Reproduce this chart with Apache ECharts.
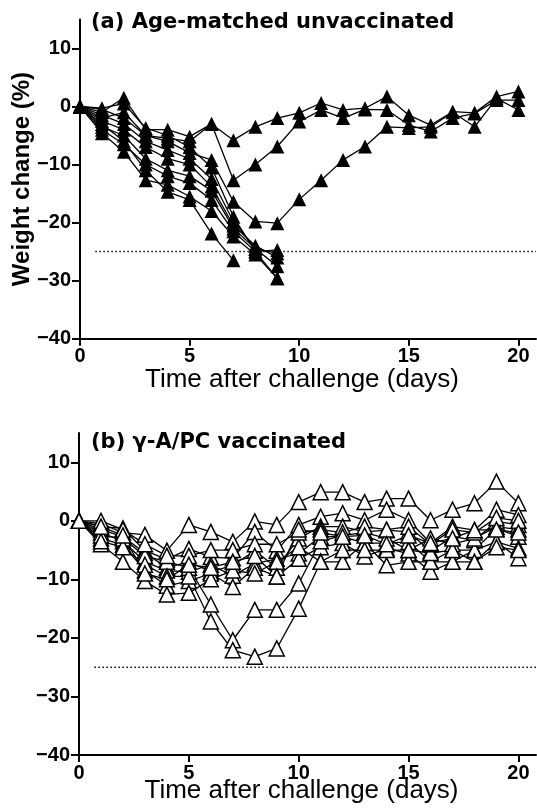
<!DOCTYPE html>
<html>
<head>
    <meta charset="utf-8" />
    <script type="text/javascript" src="https://cdn.jsdelivr.net/npm/echarts@6/dist/echarts.min.js"></script>
    <title>Weight change after challenge</title>
    <style>
        html, body { margin: 0; padding: 0; background: #fff; }
    </style>
</head>
<body>
    <div id="main" style="width: 537px;height:808px;"></div>
    <script type="text/javascript">
    // days after challenge
    var days = [0, 1, 2, 3, 4, 5, 6, 7, 8, 9, 10, 11, 12, 13, 14, 15, 16, 17, 18, 19, 20];
    var xTicks = [0, 5, 10, 15, 20];
    var yTicks = [-40, -30, -20, -10, 0, 10];
    var threshold = -25; // humane endpoint, dotted line
    var thresholdFrom = 0.7;
    var thresholdTo = 20.8;

    // (a) age-matched unvaccinated, % weight change per mouse (stops when mouse died)
    var unvac1 = [0, -1, 1.5, -4, -4, -5.2, -3, -5.8, -3.5, -2, -1.1, 0.6, -0.6, -0.3, 1.7, -1.5, -3.2, -0.9, -1.1, 1.7, 2.6];
    var unvac2 = [0, -2, -1, -5, -5.5, -6, -3, -12.7, -10, -6.9, -2.6, -0.6, -2.0, -0.5, -0.6, -3.2, -4.3, -2.0, -1.2, 1.1, 1.1];
    var unvac3 = [0, -0.5, -2, -5, -6, -8, -9.2, -16.4, -19.8, -20.1, -16, -12.7, -9.2, -6.9, -3.5, -3.7, -3.5, -1.0, -3.5, 1.4, -0.6];
    var unvac4 = [0, -3, -6, -11, -14.7, -16.1, -21.9, -26.5];
    var unvac5 = [0, -4.6, -7.8, -12.7, -13.5, -15.5, -18, -22.4, -25.5, -29.6];
    var unvac6 = [0, -4, -6.5, -10, -12, -13.2, -16.1, -21.5, -25, -29.6];
    var unvac7 = [0, -3.5, -5, -9, -11, -12, -14.5, -21, -24.5, -27.5];
    var unvac8 = [0, -2.5, -4, -7, -9, -10, -13.8, -20.5, -24, -26];
    var unvac9 = [0, -1.5, -3, -6, -7.5, -9, -12.5, -19.8, -24.5, -25.3];
    var unvac10 = [0, -0.3, 0.5, -3.7, -5, -7, -10.5, -19, -25, -24.7];

    // (b) gamma-A/PC vaccinated
    var vac1 = [0, -0.5, -2, -2.4, -5.1, -0.7, -1.9, -3.6, -0.1, -0.7, 3.2, 4.9, 4.9, 3.2, 3.8, 3.8, 0.1, 1.9, 3.0, 6.7, 3.0];
    var vac2 = [0, -1, -1.3, -5.1, -6.6, -4.8, -6.2, -6.4, -1.9, -5.1, -0.7, 0.7, 1.3, 0.1, 1.9, 0.1, -3.8, -1.0, -1.6, 1.9, 1.0];
    var vac3 = [0, -1.5, -2.7, -5.5, -8.0, -7.0, -8.7, -7.6, -5.1, -8.0, -3.0, -1.0, -1.0, -1.9, -1.6, -1.9, -5.2, -2.7, -3.3, -0.1, -0.7];
    var vac4 = [0, -2, -3.5, -7.0, -8.5, -8.7, -7.5, -9.4, -7.3, -6.5, -5.6, -2.7, -2.7, -3.8, -3.8, -3.6, -7.0, -5.0, -5.0, -1.3, -2.7];
    var vac5 = [0, -3, -4.1, -8.5, -11.1, -10.3, -9, -11.3, -8, -9.5, -6.5, -4.5, -3.8, -6.1, -4.7, -5.6, -8.7, -7.0, -7.0, -3.6, -4.7];
    var vac6 = [0, -4, -7.0, -10.3, -12.6, -12.3, -10, -8.5, -9, -7, -4.5, -7.0, -7.0, -3.8, -7.6, -7.0, -7.0, -7.0, -5.0, -3.6, -6.4];
    var vac7 = [0, -2.5, -3, -6, -7, -8, -14.3, -20.4, -15.2, -15.2, -10.7, -3.5, -2.5, -2, -3, -5, -3, -4, -3, -1, -1.5];
    var vac8 = [0, -3.5, -4.5, -7.5, -9.5, -9.5, -17.2, -22.1, -23.2, -21.8, -15, -7.0, -5, -5, -5, -5, -5.5, -5, -7, -4.5, -5];
    var vac9 = [0, 0, -1.5, -4, -6, -6, -5, -5, -4, -4, -2, -1.5, -2, -1, -1.5, -1, -4, -1.5, -2, 0.5, 0];
    var vac10 = [0, -1, -2.5, -9, -10, -7.5, -8, -7, -6, -9.5, -1.5, -2, -2.7, -2.5, -4, -2.5, -3.8, -3, -1.6, -1.5, -2];

    var unvaccinated = [unvac1, unvac2, unvac3, unvac4, unvac5, unvac6, unvac7, unvac8, unvac9, unvac10];
    var vaccinated = [vac1, vac2, vac3, vac4, vac5, vac6, vac7, vac8, vac9, vac10];

    var font = '"Liberation Sans", Arial, sans-serif';
    var titleFont = '"DejaVu Sans", sans-serif';
    var myChart = echarts.init(document.getElementById('main'));

    function minus(v) {
        return String(v).replace('-', '\u2212');
    }

    function pairs(vals) {
        return vals.map(function(v, i) { return [days[i], v]; });
    }

    function xAxisFor(idx) {
        return {
            type: 'value', gridIndex: idx, min: 0, max: thresholdTo,
            name: 'Time after challenge (days)', nameLocation: 'middle',
            nameGap: idx == 0 ? 28 : 23, nameMoveOverlap: false,
            nameTextStyle: { fontFamily: font, fontSize: 26, color: '#000', padding: [0, 12, 0, 0] },
            axisLine: { onZero: false, lineStyle: { color: '#000', width: 2 } },
            axisTick: { length: 7, lineStyle: { color: '#000', width: 2 }, customValues: xTicks },
            axisLabel: { margin: 8, fontFamily: font, fontWeight: 'bold', fontSize: 20, color: '#000', customValues: xTicks },
            splitLine: { show: false }
        };
    }

    function yAxisFor(idx) {
        var ax = {
            type: 'value', gridIndex: idx, min: -40, max: 15,
            axisLine: { onZero: false, lineStyle: { color: '#000', width: 2 } },
            axisTick: { length: 8, lineStyle: { color: '#000', width: 2 }, customValues: yTicks },
            axisLabel: { margin: 9, fontFamily: font, fontWeight: 'bold', fontSize: 20, color: '#000',
                customValues: yTicks, formatter: minus },
            splitLine: { show: false }
        };
        if (idx == 0) {
            ax.name = 'Weight change (%)';
            ax.nameLocation = 'middle';
            ax.nameGap = 46;
            ax.nameMoveOverlap = false;
            ax.nameTextStyle = { fontFamily: font, fontSize: 24, fontWeight: 'bold', color: '#000' };
        }
        return ax;
    }

    var series = [];
    // dotted 25% loss lines
    [0, 1].forEach(function(idx) {
        series.push({
            type: 'line', xAxisIndex: idx, yAxisIndex: idx, symbol: 'none', silent: true,
            data: [[thresholdFrom, threshold], [thresholdTo, threshold]],
            lineStyle: { color: '#000', width: 1.5, type: [1.5, 2.5] }
        });
    });
    unvaccinated.forEach(function(m) {
        series.push({
            type: 'line', xAxisIndex: 0, yAxisIndex: 0, data: pairs(m),
            symbol: 'triangle', symbolSize: 14,
            itemStyle: { color: '#000' },
            lineStyle: { color: '#000', width: 1.3 }
        });
    });
    vaccinated.forEach(function(m) {
        series.push({
            type: 'line', xAxisIndex: 1, yAxisIndex: 1, data: pairs(m),
            symbol: 'triangle', symbolSize: 15,
            itemStyle: { color: '#fff', borderColor: '#000', borderWidth: 1.5 },
            lineStyle: { color: '#000', width: 1.3 }
        });
    });

    var option = {
        animation: false,
        backgroundColor: '#fff',
        title: [
            { text: '(a) Age-matched unvaccinated', left: 91, top: 12,
              textStyle: { fontFamily: titleFont, fontSize: 21, fontWeight: 'bold', color: '#000' }, padding: 0 },
            { text: '(b) \u03b3-A/PC vaccinated', left: 91, top: 432,
              textStyle: { fontFamily: titleFont, fontSize: 21, fontWeight: 'bold', color: '#000' }, padding: 0 }
        ],
        grid: [
            { left: 80, right: 1, top: 19.4, bottom: 469.3, outerBoundsMode: 'none' },
            { left: 79, right: 1, top: 433, bottom: 53, outerBoundsMode: 'none' }
        ],
        xAxis: [xAxisFor(0), xAxisFor(1)],
        yAxis: [yAxisFor(0), yAxisFor(1)],
        series: series
    };
    myChart.setOption(option);
    </script>
</body>
</html>
